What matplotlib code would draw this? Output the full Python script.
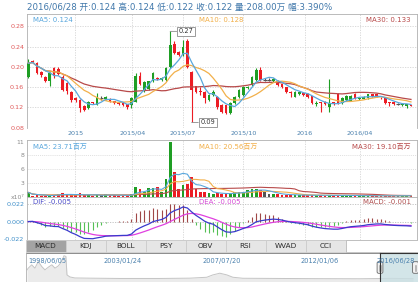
import numpy as np
import pandas as pd
import matplotlib
matplotlib.use("Agg")
import matplotlib.pyplot as plt
from matplotlib.patches import Rectangle, FancyBboxPatch

plt.rcParams['font.family'] = ['DejaVu Sans', 'Noto Sans CJK SC']

W, H = 418, 282

# ---------------- data (weekly candles) ----------------
opens = [0.180, 0.212, 0.208, 0.190, 0.180, 0.171, 0.198, 0.196, 0.180, 0.168,
         0.150, 0.138, 0.134, 0.122, 0.118, 0.130, 0.125, 0.138, 0.136, 0.136,
         0.132, 0.128, 0.128, 0.126, 0.124, 0.131, 0.181, 0.155, 0.157, 0.171,
         0.177, 0.174, 0.174, 0.200, 0.246, 0.230, 0.223, 0.250, 0.190, 0.162,
         0.152, 0.151, 0.134, 0.144, 0.140, 0.124, 0.124, 0.108, 0.128, 0.140,
         0.144, 0.158, 0.164, 0.174, 0.194, 0.174, 0.174, 0.172, 0.171, 0.166,
         0.160, 0.151, 0.141, 0.147, 0.148, 0.147, 0.142, 0.127, 0.130, 0.130,
         0.120, 0.130, 0.147, 0.128, 0.134, 0.133, 0.147, 0.136, 0.137, 0.138,
         0.146, 0.146, 0.139, 0.138, 0.130, 0.130, 0.127, 0.124, 0.123, 0.124]
highs = [0.215, 0.214, 0.209, 0.192, 0.181, 0.190, 0.200, 0.199, 0.184, 0.170,
         0.153, 0.140, 0.136, 0.124, 0.133, 0.131, 0.148, 0.142, 0.143, 0.138,
         0.133, 0.129, 0.129, 0.127, 0.140, 0.187, 0.190, 0.171, 0.172, 0.190,
         0.179, 0.179, 0.199, 0.270, 0.250, 0.232, 0.253, 0.255, 0.192, 0.163,
         0.160, 0.152, 0.146, 0.155, 0.142, 0.126, 0.125, 0.130, 0.142, 0.156,
         0.162, 0.163, 0.182, 0.198, 0.200, 0.178, 0.177, 0.177, 0.173, 0.167,
         0.161, 0.153, 0.153, 0.152, 0.150, 0.148, 0.143, 0.132, 0.131, 0.132,
         0.175, 0.131, 0.149, 0.140, 0.145, 0.144, 0.149, 0.140, 0.142, 0.147,
         0.147, 0.147, 0.141, 0.139, 0.131, 0.131, 0.129, 0.128, 0.127, 0.124]
lows = [0.178, 0.207, 0.185, 0.180, 0.170, 0.162, 0.178, 0.183, 0.152, 0.146,
        0.130, 0.131, 0.111, 0.112, 0.116, 0.126, 0.124, 0.135, 0.134, 0.130,
        0.126, 0.124, 0.122, 0.117, 0.119, 0.130, 0.165, 0.150, 0.155, 0.169,
        0.173, 0.172, 0.172, 0.198, 0.225, 0.221, 0.221, 0.198, 0.090, 0.148,
        0.145, 0.128, 0.132, 0.142, 0.116, 0.109, 0.106, 0.106, 0.126, 0.138,
        0.142, 0.156, 0.162, 0.172, 0.172, 0.171, 0.171, 0.170, 0.162, 0.158,
        0.148, 0.141, 0.140, 0.145, 0.142, 0.139, 0.126, 0.122, 0.111, 0.124,
        0.111, 0.124, 0.126, 0.127, 0.133, 0.132, 0.136, 0.135, 0.136, 0.137,
        0.140, 0.141, 0.136, 0.126, 0.123, 0.125, 0.125, 0.123, 0.119, 0.122]
closes = [0.207, 0.210, 0.188, 0.184, 0.172, 0.188, 0.181, 0.186, 0.155, 0.152,
          0.134, 0.134, 0.118, 0.115, 0.131, 0.128, 0.140, 0.138, 0.141, 0.131,
          0.128, 0.126, 0.124, 0.120, 0.138, 0.181, 0.167, 0.169, 0.171, 0.187,
          0.175, 0.177, 0.197, 0.243, 0.227, 0.223, 0.240, 0.200, 0.154, 0.150,
          0.150, 0.138, 0.144, 0.151, 0.120, 0.111, 0.108, 0.128, 0.140, 0.154,
          0.160, 0.161, 0.180, 0.194, 0.174, 0.174, 0.174, 0.175, 0.164, 0.160,
          0.150, 0.149, 0.151, 0.150, 0.144, 0.141, 0.128, 0.128, 0.128, 0.126,
          0.128, 0.126, 0.128, 0.138, 0.143, 0.142, 0.138, 0.138, 0.140, 0.146,
          0.142, 0.142, 0.138, 0.128, 0.128, 0.126, 0.127, 0.127, 0.126, 0.122]
volumes = [0.85, 0.20, 0.25, 0.20, 0.15, 0.30, 0.40, 0.60, 0.65, 0.30,
           0.30, 0.25, 0.70, 0.30, 0.35, 0.20, 0.35, 0.30, 0.45, 0.30,
           0.25, 0.20, 0.35, 0.25, 0.50, 1.90, 1.50, 0.90, 1.70, 1.70,
           2.00, 1.00, 3.50, 11.0, 5.00, 1.50, 2.40, 2.60, 4.00, 1.60,
           1.00, 0.90, 0.80, 0.60, 0.70, 0.50, 0.60, 0.70, 0.90, 1.00,
           0.90, 1.30, 1.60, 1.50, 1.30, 0.90, 0.60, 0.50, 0.50, 0.40,
           0.40, 0.30, 0.35, 0.30, 0.25, 0.30, 0.35, 0.25, 0.30, 0.20,
           0.35, 0.20, 0.30, 0.25, 0.25, 0.20, 0.25, 0.15, 0.20, 0.20,
           0.20, 0.15, 0.15, 0.20, 0.20, 0.15, 0.15, 0.20, 0.20, 0.20]

date_tick_pos = [10.9, 24.2, 36.0, 50.0, 64.3, 77.1]
date_tick_labels = ['2015', '2015/04', '2015/07', '2015/10', '2016', '2016/04']
price_ticks = [0.08, 0.12, 0.16, 0.20, 0.24, 0.28]
vol_ticks = [0, 2.75, 5.5, 8.25, 11]
vol_tick_labels = ['x10⁷', '3', '6', '8', '11']
macd_ticks = [-0.022, 0.0, 0.022]

header = '2016/06/28 开:0.124 高:0.124 低:0.122 收:0.122 量:208.00万 幅:3.390%'
price_legend = ['MA5: 0.124', 'MA10: 0.128', 'MA30: 0.133']
vol_legend = ['MA5: 23.71百万', 'MA10: 20.56百万', 'MA30: 19.10百万']
macd_legend = ['DIF: -0.005', 'DEA: -0.005', 'MACD: -0.001']
tabs = ['MACD', 'KDJ', 'BOLL', 'PSY', 'OBV', 'RSI', 'WVAD', 'CCI']
high_label, low_label = '0.27', '0.09'

nav_years = [1998.43, 1998.49, 1998.65, 1998.80, 1998.96, 1999.12, 1999.27, 1999.43,
             1999.59, 1999.74, 1999.90, 2000.05, 2000.16, 2000.25, 2000.30, 2000.44,
             2000.67, 2001.37, 2002.77, 2004.64, 2006.05, 2006.84, 2007.12, 2007.45,
             2007.78, 2008.06, 2008.53, 2010.25, 2012.12, 2013.99, 2015.50, 2016.49]
nav_values = [12, 13.7, 17, 13.7, 20.3, 15.3, 12, 14.7, 17, 13.7, 16, 20.3, 26, 25.3, 7, 5,
              4, 3.8, 3.5, 3.5, 3.8, 4.7, 7, 8.7, 7, 4.7, 3.7, 3.5, 3.3, 3.2, 3.6, 3.3]
nav_labels = ['1998/06/05', '2003/01/24', '2007/07/20', '2012/01/06', '2016/06/28']

# ---------------- derived ----------------
o = np.array(opens); h = np.array(highs); l = np.array(lows); c = np.array(closes)
v = np.array(volumes)
idx = np.arange(len(c))
UP, DN, DJ = '#1f9e24', '#ec1c24', '#555555'
col = np.where(c > o, UP, np.where(c < o, DN, DJ))
cs = pd.Series(c)
vs = pd.Series(v)
ma = {n: cs.rolling(n, min_periods=1).mean() for n in (5, 10, 30)}
vma = {n: vs.rolling(n, min_periods=1).mean() for n in (5, 10, 30)}
ema12 = cs.ewm(span=12, adjust=False).mean()
ema26 = cs.ewm(span=26, adjust=False).mean()
dif = ema12 - ema26
dea = dif.ewm(span=9, adjust=False).mean()
hist = 2 * (dif - dea)

C5, C10, C30 = '#59a7dd', '#f2b04a', '#b84a4a'
GRID = '#d4d4d4'
SPINE = '#b0b0b0'
XL = (-0.3, 90.4)


def rect(x0, y0, x1, y1):
    return [x0 / W, 1 - y1 / H, (x1 - x0) / W, (y1 - y0) / H]


def ftext(x, y, s, **kw):
    fig.text(x / W, 1 - y / H, s, **kw)


fig = plt.figure(figsize=(W / 100, H / 100), dpi=100)


def style(ax):
    for sp in ax.spines.values():
        sp.set_color(SPINE)
        sp.set_linewidth(0.6)
    ax.set_xlim(*XL)
    ax.set_xticks(date_tick_pos)
    ax.tick_params(length=0, pad=2)
    for t in date_tick_pos:
        ax.axvline(t, color=GRID, lw=0.6, ls=(0, (1.5, 1.5)), zorder=0)


# ---------------- price panel ----------------
axp = fig.add_axes(rect(27, 14, 417, 128))
style(axp)
axp.spines['bottom'].set_visible(False)
axp.set_ylim(0.0791, 0.3043)
axp.set_yticks(price_ticks)
axp.set_yticklabels(['%.2f' % t for t in price_ticks], fontsize=4.6, color='#e05a5a')
axp.set_xticklabels(date_tick_labels, fontsize=4.6, color='#4a80ad')
for t in price_ticks:
    axp.axhline(t, color=GRID, lw=0.6, ls=(0, (1.5, 1.5)), zorder=0)
axp.vlines(idx, l, h, colors=col, lw=0.8, zorder=2)
axp.bar(idx, np.abs(c - o), bottom=np.minimum(o, c), width=0.62, color=col, zorder=3, lw=0)
flat = c == o
axp.hlines(c[flat], idx[flat] - 0.4, idx[flat] + 0.4, colors=DJ, lw=0.8, zorder=3)
axp.plot(idx, ma[30], color=C30, lw=0.9, zorder=4)
axp.plot(idx, ma[10], color=C10, lw=0.9, zorder=4)
axp.plot(idx, ma[5], color=C5, lw=0.9, zorder=4)
ih = int(np.argmax(h)); il = int(np.argmin(l))
box = dict(boxstyle='square,pad=0.25', fc='white', ec='#8a8a8a', lw=0.6)
axp.annotate(high_label, xy=(ih, h[ih]), xytext=(16, 0), textcoords='offset pixels',
             fontsize=4.8, color='#333333', ha='center', va='center', bbox=box,
             arrowprops=dict(arrowstyle='-', color='#8a8a8a', lw=0.6, shrinkA=0, shrinkB=0), zorder=6)
axp.annotate(low_label, xy=(il, l[il]), xytext=(16, 0), textcoords='offset pixels',
             fontsize=4.8, color='#333333', ha='center', va='center', bbox=box,
             arrowprops=dict(arrowstyle='-', color='#8a8a8a', lw=0.6, shrinkA=0, shrinkB=0), zorder=6)

# ---------------- volume panel ----------------
axv = fig.add_axes(rect(27, 140, 417, 196.7))
style(axv)
axv.spines['bottom'].set_visible(False)
axv.set_ylim(0, 11.34)
axv.set_yticks(vol_ticks)
axv.set_yticklabels(vol_tick_labels, fontsize=4.4, color='#8a8a8a')
axv.set_xticklabels([])
for t in vol_ticks[1:4]:
    axv.axhline(t, color=GRID, lw=0.5, ls=(0, (1.5, 1.5)), zorder=0)
axv.bar(idx, v, width=0.62, color=col, lw=0, zorder=2)
axv.plot(idx, vma[30], color=C30, lw=0.8, zorder=3)
axv.plot(idx, vma[10], color=C10, lw=0.8, zorder=3)
axv.plot(idx, vma[5], color=C5, lw=0.8, zorder=3)

# ---------------- MACD panel ----------------
axm = fig.add_axes(rect(27, 196.7, 417, 240))
style(axm)
axm.set_ylim(-0.0229, 0.0309)
axm.set_yticks(macd_ticks)
axm.set_yticklabels(['%.3f' % t for t in macd_ticks], fontsize=4.6, color='#3d8ec9')
axm.set_xticklabels([])
for t in macd_ticks[1:]:
    axm.axhline(t, color='#bdbdbd', lw=0.6, ls=(0, (1.5, 1.5)), zorder=0)
axm.vlines(idx, 0, hist, colors=np.where(hist >= 0, '#a04848', '#55c055'), lw=0.8, zorder=2)
axm.plot(idx, dea, color='#e040e0', lw=0.9, zorder=3)
axm.plot(idx, dif, color='#3a3acc', lw=0.9, zorder=3)

# ---------------- header & legends ----------------
ftext(27, 7.5, header, fontsize=6.2, color='#3f77aa', va='center')
for row_y, labels, cols in ((20.5, price_legend, (C5, C10, C30)),
                            (147, vol_legend, (C5, C10, C30)),
                            (202, macd_legend, ('#4a4ac8', '#d64ad6', '#b05050'))):
    ftext(33, row_y, labels[0], fontsize=5.0, color=cols[0], va='center')
    ftext(199, row_y, labels[1], fontsize=5.0, color=cols[1], va='center')
    ftext(411, row_y, labels[2], fontsize=5.0, color=cols[2], va='center', ha='right')

# ---------------- navigator ----------------
axn = fig.add_axes(rect(25.5, 252.7, 418, 282))
axn.set_xlim(1998.36, 2016.72)
axn.set_ylim(0, 29)
axn.axis('off')
axn.fill_between(nav_years, nav_values, color='#ebebeb', lw=0)
axn.plot(nav_years, nav_values, color='#c4c4c4', lw=0.7)

# ---------------- overlay (tabs, navigator frame) ----------------
ov = fig.add_axes([0, 0, 1, 1])
ov.set_xlim(0, W)
ov.set_ylim(H, 0)
ov.axis('off')
ov.patch.set_alpha(0)
edges = np.arange(25.5, 25.5 + 40 * (len(tabs) + 1), 40)
for k, name in enumerate(tabs):
    fc = '#a3a3a3' if k == 0 else '#e6e6e6'
    ov.add_patch(Rectangle((edges[k], 239.5), 40, 12.3, fc=fc, ec='#cccccc', lw=0.6))
    ov.text(edges[k] + 20, 245.8, name, fontsize=5.2, color='#2a2a2a', ha='center', va='center')
ov.add_patch(Rectangle((edges[-1], 239.5), W - edges[-1] - 0.5, 12.3, fc='white', ec='#bbbbbb', lw=0.6))
ov.plot([25.5, W], [252.9, 252.9], color='#8c8c8c', lw=0.7)
ov.plot([25.5, 25.5], [252.9, H], color='#b0b0b0', lw=0.6)
ov.add_patch(Rectangle((380, 253), W - 380, H - 253, fc='#c9dfe3', ec='none', alpha=0.8))
ov.plot([380, W], [253.2, 253.2], color='#333333', lw=0.8)
ov.plot([380, 380], [253.2, H], color='#333333', lw=0.8)
navx = [28, 123, 222, 320, 396]
for k, s in enumerate(nav_labels):
    ov.text(navx[k], 261.5, s, fontsize=4.8, color='#4a80ad',
            ha='left' if k == 0 else 'center', va='center')
for hx in (380, 415.5):
    ov.add_patch(FancyBboxPatch((hx - 2.6, 262), 5.2, 11, boxstyle='round,pad=0.3,rounding_size=1.5',
                                fc='#f2f2f2', ec='#666666', lw=0.6))
    ov.plot([hx - 0.8, hx - 0.8], [264.5, 270.5], color='#888888', lw=0.4)
    ov.plot([hx + 0.8, hx + 0.8], [264.5, 270.5], color='#888888', lw=0.4)

fig.savefig('out.png', dpi=100)
